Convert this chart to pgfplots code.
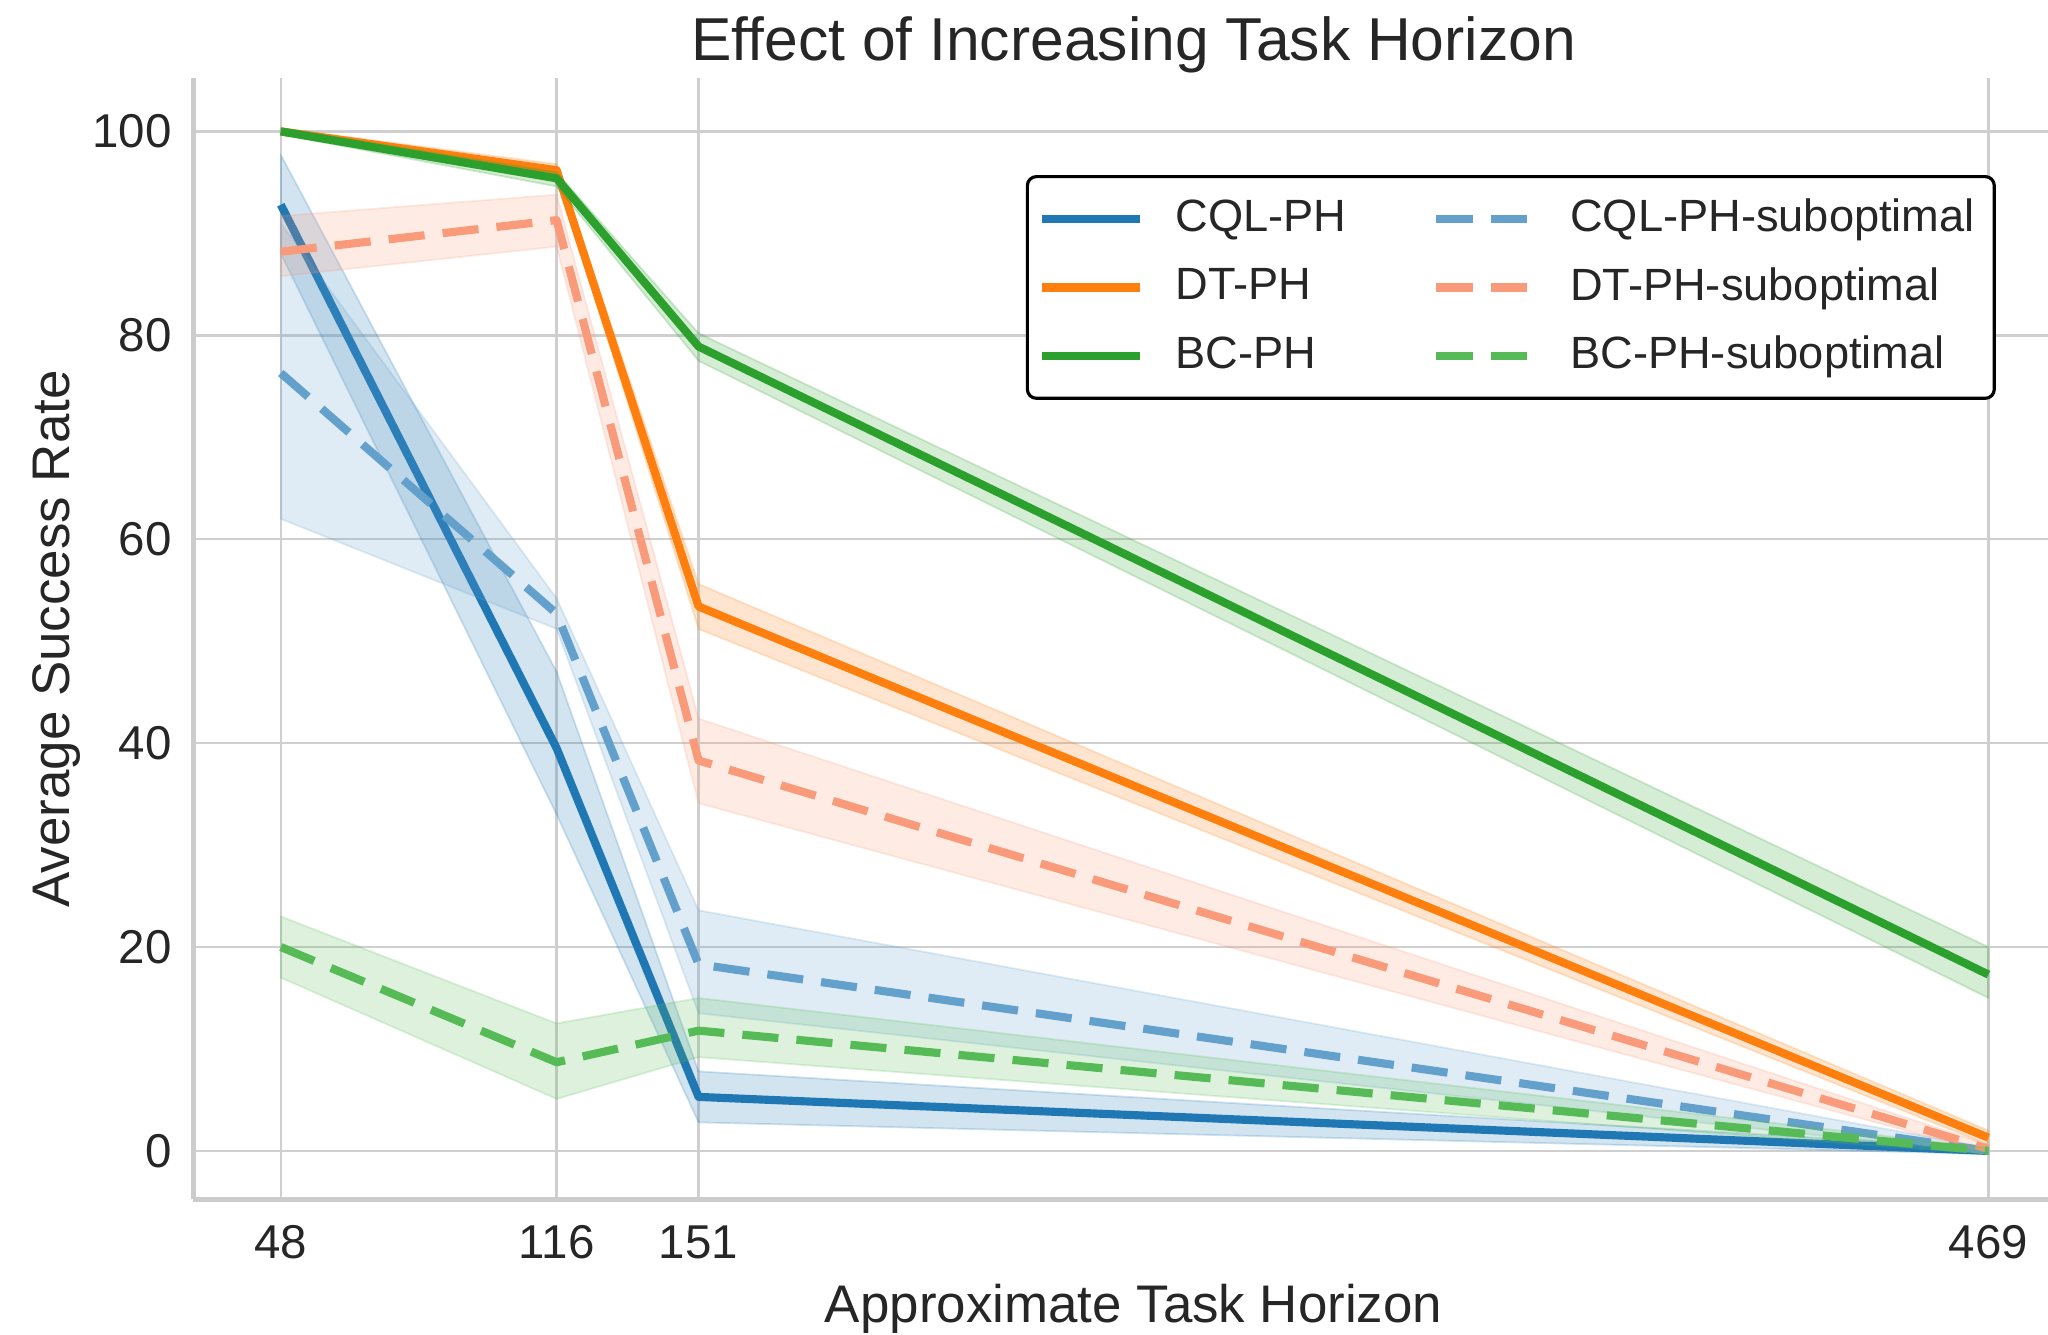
\documentclass[border=0pt]{standalone}
\usepackage{fontspec}
\setmainfont{Liberation Sans}
\usepackage{pgfplots}
\pgfplotsset{compat=1.18}
\definecolor{cqlc}{HTML}{1F77B4}
\definecolor{dtc}{HTML}{FF7F0E}
\definecolor{bcc}{HTML}{2CA02C}
\definecolor{cqls}{HTML}{63A0CB}
\definecolor{dts}{HTML}{F99B7A}
\definecolor{bcs}{HTML}{56BB56}
\definecolor{spine}{HTML}{CCCCCC}
\definecolor{gridc}{HTML}{CFCFCF}
\definecolor{txt}{HTML}{262626}
\begin{document}
\begin{tikzpicture}
\begin{axis}[
  scale only axis, width=410.2pt, height=247.9pt,
  xmin=26.43, xmax=483.7, ymin=-4.74, ymax=105.2,
  axis lines*=left,
  every outer x axis line/.append style={-},
  every outer y axis line/.append style={-},
  axis line style={-, draw=spine, line width=1pt},
  xtick={48,116,151,469}, ytick={0,20,40,60,80,100},
  major tick length=0pt,
  grid=major, grid style={draw=gridc, line width=0.55pt},
  tick label style={font=\fontsize{10.5}{12}\selectfont, text=txt, inner sep=0pt},
  xticklabel style={anchor=base, yshift=-13pt},
  yticklabel style={anchor=east, xshift=-4.6pt},
  /pgf/number format/assume math mode=true,
  xlabel={Approximate Task Horizon}, ylabel={Average Success Rate},
  label style={font=\fontsize{11.7}{14}\selectfont, text=txt},
  xlabel style={at={(axis description cs:0.507,-0.1097)}, anchor=base},
  ylabel style={at={(axis description cs:-0.067,0.5)}, anchor=base},
  title={Effect of Increasing Task Horizon},
  title style={font=\fontsize{13.4}{16}\selectfont, text=txt, at={(axis description cs:0.507,1)}, anchor=base, yshift=-2.0pt},
  legend columns=2,
  legend cell align=left,
  legend style={at={(0.9719,0.9138)}, anchor=north east, draw=black, line width=0.7pt,
    rounded corners=2pt, fill=white, text=txt, font=\fontsize{10}{11.6}\selectfont,
    inner xsep=2.3pt, inner ysep=3pt, row sep=2.4pt,
    /tikz/every odd column/.append style={column sep=5pt},
    /tikz/every even column/.append style={column sep=17pt}},
  legend image code/.code={\draw[#1] (0pt,0pt) -- (21.7pt,0pt);},
  line join=round,
]
% CQL-PH
\addplot[fill=cqlc, fill opacity=0.2, draw=cqlc, draw opacity=0.2, line width=0.4pt, forget plot]
  coordinates {(48,97.7)(116,47)(151,7.8)(469,0.3)(469,-0.3)(151,2.8)(116,33)(48,88)} -- cycle;
\addplot[cqlc, line width=1.8pt, forget plot] coordinates {(48,92.8)(116,39.5)(151,5.3)(469,0)};
% DT-PH
\addplot[fill=dtc, fill opacity=0.2, draw=dtc, draw opacity=0.2, line width=0.4pt, forget plot]
  coordinates {(48,100.3)(116,96.8)(151,55.6)(469,2.0)(469,0.6)(151,51.2)(116,95.6)(48,99.7)} -- cycle;
\addplot[dtc, line width=1.8pt, forget plot] coordinates {(48,100)(116,96.2)(151,53.4)(469,1.3)};
% BC-PH
\addplot[fill=bcc, fill opacity=0.2, draw=bcc, draw opacity=0.2, line width=0.4pt, forget plot]
  coordinates {(48,100.3)(116,96.0)(151,80.2)(469,20.0)(469,15.0)(151,77.5)(116,94.6)(48,99.7)} -- cycle;
\addplot[bcc, line width=1.8pt, forget plot] coordinates {(48,100)(116,95.4)(151,78.9)(469,17.3)};
% CQL-PH-suboptimal
\addplot[fill=cqls, fill opacity=0.2, draw=cqls, draw opacity=0.2, line width=0.4pt, forget plot]
  coordinates {(48,91)(116,54.2)(151,23.6)(469,0.3)(469,-0.3)(151,13.5)(116,51.2)(48,62)} -- cycle;
\addplot[cqls, line width=1.8pt, dash pattern=on 8pt off 4pt, forget plot] coordinates {(48,76.3)(116,52.7)(151,18.3)(469,0)};
% DT-PH-suboptimal
\addplot[fill=dts, fill opacity=0.2, draw=dts, draw opacity=0.2, line width=0.4pt, forget plot]
  coordinates {(48,91.7)(116,93.8)(151,42.4)(469,0.6)(469,-0.2)(151,34.1)(116,88.7)(48,85.8)} -- cycle;
\addplot[dts, line width=1.8pt, dash pattern=on 8pt off 4pt, forget plot] coordinates {(48,88.2)(116,91.3)(151,38.3)(469,0.2)};
% BC-PH-suboptimal
\addplot[fill=bcs, fill opacity=0.2, draw=bcs, draw opacity=0.2, line width=0.4pt, forget plot]
  coordinates {(48,23)(116,12.5)(151,15.0)(469,0.3)(469,-0.3)(151,9.2)(116,5.1)(48,17)} -- cycle;
\addplot[bcs, line width=1.8pt, dash pattern=on 8pt off 4pt, forget plot] coordinates {(48,20)(116,8.7)(151,11.8)(469,0)};
% legend
\addlegendimage{cqlc, line width=1.8pt}
\addlegendentry{CQL-PH}
\addlegendimage{cqls, line width=1.8pt, dash pattern=on 8pt off 4pt}
\addlegendentry{CQL-PH-suboptimal}
\addlegendimage{dtc, line width=1.8pt}
\addlegendentry{DT-PH}
\addlegendimage{dts, line width=1.8pt, dash pattern=on 8pt off 4pt}
\addlegendentry{DT-PH-suboptimal}
\addlegendimage{bcc, line width=1.8pt}
\addlegendentry{BC-PH}
\addlegendimage{bcs, line width=1.8pt, dash pattern=on 8pt off 4pt}
\addlegendentry{BC-PH-suboptimal}
\end{axis}
\pgfresetboundingbox
\useasboundingbox ([xshift=-42.76pt,yshift=-29.86pt]current axis.south west) rectangle ([yshift=17.34pt]current axis.north east);
\end{tikzpicture}
\end{document}
